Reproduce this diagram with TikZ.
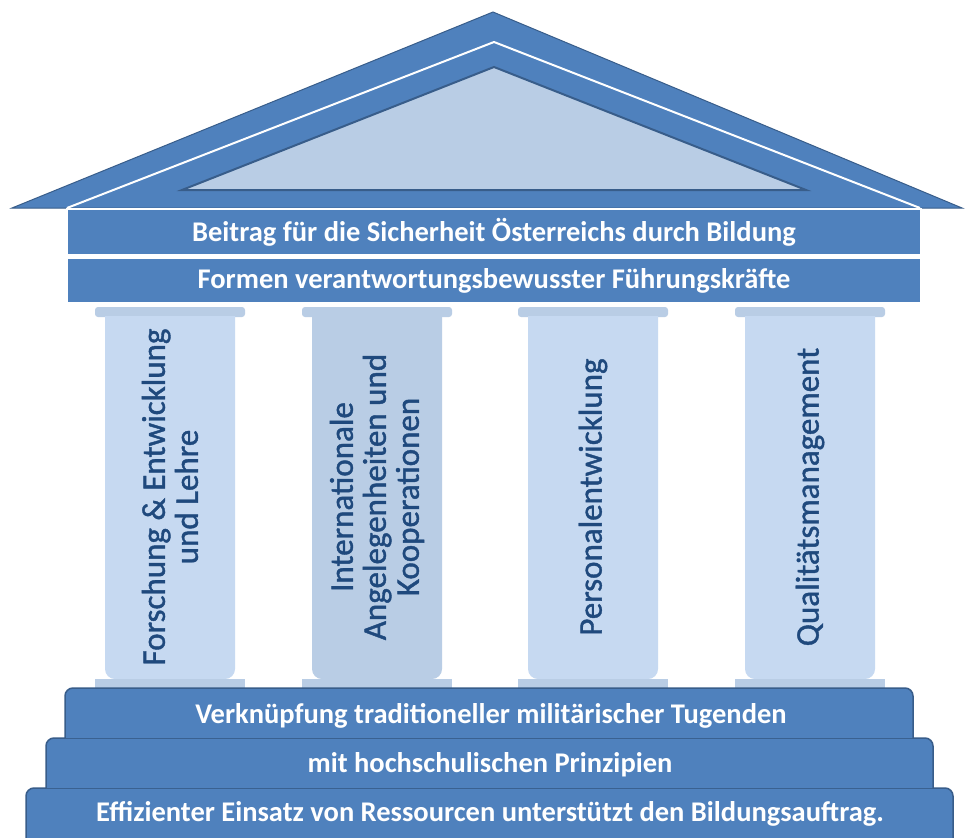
\documentclass[tikz,border=0pt]{standalone}
\usepackage{fontspec}
\setmainfont{Carlito}
\newfontfamily\colfont[FakeBold=1.2]{Carlito}
\definecolor{roofblue}{HTML}{4F81BD}
\definecolor{edgeblue}{HTML}{385D8A}
\definecolor{lightblue}{HTML}{C6D9F1}
\definecolor{midblue}{HTML}{B9CDE5}
\definecolor{textblue}{HTML}{1F497D}
\begin{document}
\begin{tikzpicture}[x=1pt,y=-1pt,
  beam/.style={fill=roofblue, draw=white, line width=1.5pt, inner sep=0pt,
    minimum width=854pt, text=white, font=\bfseries\fontsize{28.5}{32}\selectfont},
  stepbox/.style={fill=roofblue, draw=edgeblue, line width=1.5pt},
  steptext/.style={text=white, inner sep=0pt, font=\bfseries\fontsize{28.5}{32}\selectfont},
  coltext/.style={text=textblue, rotate=90, align=center, inner sep=0pt,
    font=\colfont\fontsize{33}{33}\selectfont},
  capital/.style={fill=midblue, rounded corners=3pt},
]
\useasboundingbox[fill=white] (0,0) rectangle (968,837);

% roof
\path[fill=roofblue, draw=edgeblue, line width=1pt] (12,208) -- (493,12) -- (962,208) -- cycle;
\path[draw=white, line width=2pt] (67,208) -- (494,42) -- (920,208);
\path[fill=midblue, draw=edgeblue, line width=2pt] (182,190) -- (494,67) -- (806,190) -- cycle;

% beams
\node[beam, minimum height=46pt] (beam1) at (494,232)
  {Beitrag für die Sicherheit Österreichs durch Bildung};
\node[beam, minimum height=45pt] (beam2) at (494,280.5)
  {Formen verantwortungsbewusster Führungskräfte};

% columns
\foreach \cx/\nm/\sf/\txt in {
  170/colA/lightblue/{Forschung \& Entwicklung\\und Lehre},
  377/colB/midblue/{Internationale\\Angelegenheiten und\\Kooperationen},
  593/colC/lightblue/{Personalentwicklung},
  810/colD/lightblue/{Qualitätsmanagement}}{
  \path[capital] (\cx-75,307) rectangle (\cx+75,317);
  \path[fill=\sf] (\cx-65,316) {[rounded corners=10pt] -- (\cx-65,679) -- (\cx+65,679)} -- (\cx+65,316) -- cycle;
  \path[fill=midblue] (\cx-75,679) rectangle (\cx+75,688);
  \node[coltext] (\nm) at (\cx,497) {\txt};
}

% steps
\path[stepbox] (26,845) {[rounded corners=8pt] -- (26,788) -- (953,788)} -- (953,845);
\path[stepbox] (46,788) {[rounded corners=8pt] -- (46,738) -- (933,738)} -- (933,788);
\path[stepbox] (65,738) {[rounded corners=8pt] -- (65,688) -- (913,688)} -- (913,738);

\node[steptext] (stepA) at (491,716) {Verknüpfung traditioneller militärischer Tugenden};
\node[steptext] (stepB) at (490,765) {mit hochschulischen Prinzipien};
\node[steptext] (stepC) at (490,814) {Effizienter Einsatz von Ressourcen unterstützt den Bildungsauftrag.};
\end{tikzpicture}
\end{document}
